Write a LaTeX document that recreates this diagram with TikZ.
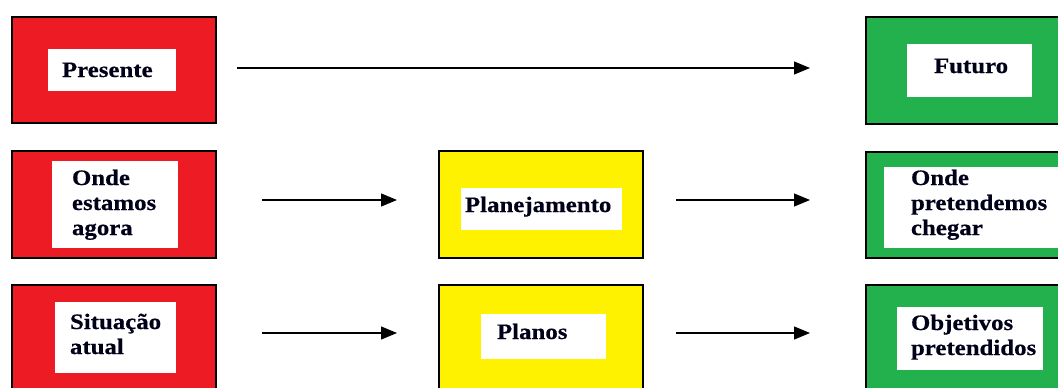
\documentclass[tikz,border=0pt]{standalone}
\usepackage{fontspec}
\setmainfont{Liberation Serif}[FakeStretch=1.13, BoldFeatures={FakeBold=0.5}]
\usetikzlibrary{arrows.meta}
\definecolor{pred}{HTML}{ED1C24}
\definecolor{pyel}{HTML}{FFF200}
\definecolor{pgrn}{HTML}{22B14C}
\tikzset{
  outerbox/.style={draw=black, line width=1.3pt, inner sep=0pt, outer sep=0pt},
  innerbox/.style={fill=white, inner sep=0pt, outer sep=0pt},
  lbl/.style={inner sep=0pt, outer sep=0pt, anchor=base west, text=black!90!blue, font=\fontsize{22}{25}\selectfont\bfseries},
  arr/.style={line width=1.2pt, -{Triangle[length=16pt,width=13pt]}}
}
\newcommand{\ml}[1]{\begin{tabular}[t]{@{}l@{}}#1\end{tabular}}
\begin{document}
\begin{tikzpicture}[x=1pt,y=-1pt]
\useasboundingbox (0,0) rectangle (1058,388);
% outer boxes
\node[outerbox, fill=pred, minimum width=204pt, minimum height=106pt] (P) at (114,70) {};
\node[outerbox, fill=pred, minimum width=204pt, minimum height=107pt] (R2) at (114,204.5) {};
\node[outerbox, fill=pred, minimum width=204pt, minimum height=107pt] (R3) at (114,338.5) {};
\node[outerbox, fill=pyel, minimum width=204pt, minimum height=107pt] (Y2) at (541,204.5) {};
\node[outerbox, fill=pyel, minimum width=204pt, minimum height=107pt] (Y3) at (541,338.5) {};
\node[outerbox, fill=pgrn, minimum width=204pt, minimum height=107pt] (G1) at (968,70.5) {};
\node[outerbox, fill=pgrn, minimum width=204pt, minimum height=106pt] (G2) at (968,205) {};
\node[outerbox, fill=pgrn, minimum width=204pt, minimum height=107pt] (G3) at (968,338.5) {};
% white inner boxes
\node[innerbox, minimum width=128pt, minimum height=42pt] (W1) at (112,70) {};
\node[innerbox, minimum width=126pt, minimum height=87pt] (W2) at (115,204.5) {};
\node[innerbox, minimum width=121pt, minimum height=71pt] (W3) at (115.5,337.5) {};
\node[innerbox, minimum width=161pt, minimum height=42pt] (WY2) at (541.5,209) {};
\node[innerbox, minimum width=125pt, minimum height=45pt] (WY3) at (543.5,336.5) {};
\node[innerbox, minimum width=125pt, minimum height=53pt] (WG1) at (969.5,70.5) {};
\node[innerbox, minimum width=180pt, minimum height=81pt] (WG2) at (974,207.5) {};
\node[innerbox, minimum width=146pt, minimum height=63pt] (WG3) at (970,338.5) {};
% labels
\node[lbl] (tP) at (62,77) {Presente};
\node[lbl] (t2) at (72,185) {\ml{Onde\\estamos\\agora}};
\node[lbl] (t3) at (70,329) {\ml{Situação\\atual}};
\node[lbl] (tY2) at (465,212) {Planejamento};
\node[lbl] (tY3) at (497,339) {Planos};
\node[lbl] (tG1) at (934,73) {Futuro};
\node[lbl] (tG2) at (911,185) {\ml{Onde\\pretendemos\\chegar}};
\node[lbl] (tG3) at (911,330) {\ml{Objetivos\\pretendidos}};
% arrows
\draw[arr, shorten <=21pt, shorten >=56pt] ([yshift=2pt]P.east) -- ([yshift=2.5pt]G1.west);
\draw[arr, shorten <=46pt, shorten >=42pt] ([yshift=4.5pt]R2.east) -- ([yshift=4.5pt]Y2.west);
\draw[arr, shorten <=33pt, shorten >=56pt] ([yshift=4.5pt]Y2.east) -- ([yshift=5pt]G2.west);
\draw[arr, shorten <=46pt, shorten >=42pt] ([yshift=5.5pt]R3.east) -- ([yshift=5.5pt]Y3.west);
\draw[arr, shorten <=33pt, shorten >=56pt] ([yshift=5.5pt]Y3.east) -- ([yshift=5.5pt]G3.west);
\end{tikzpicture}
\end{document}
